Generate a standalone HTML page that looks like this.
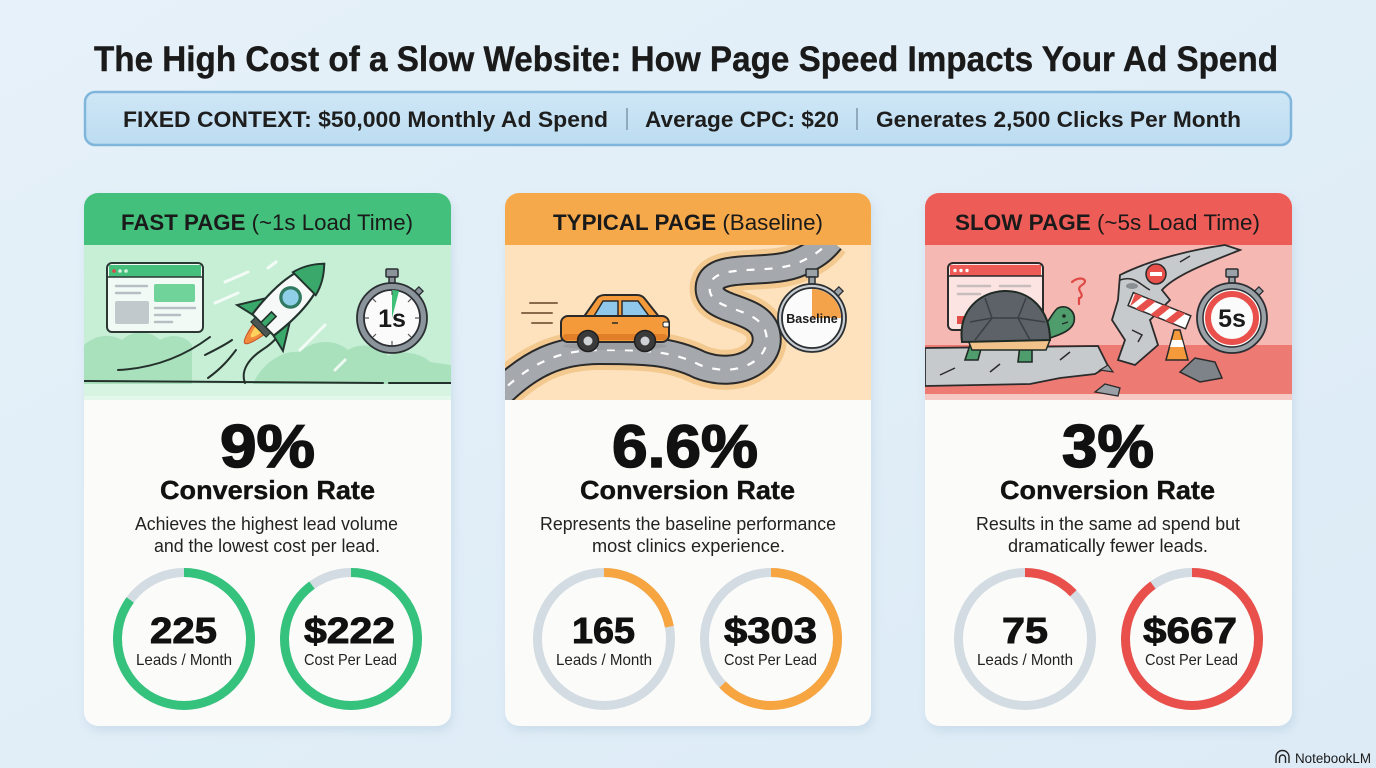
<!DOCTYPE html>
<html><head><meta charset="utf-8"><style>
html,body{margin:0;padding:0;width:1376px;height:768px;overflow:hidden;background:#e3eff8;}
svg{display:block;}
text{font-family:"Liberation Sans",Arial,sans-serif;}
</style></head><body>
<svg width="1376" height="768" viewBox="0 0 1376 768" xmlns="http://www.w3.org/2000/svg">
<defs>
<linearGradient id="bg" x1="0" y1="0" x2="1" y2="1">
<stop offset="0" stop-color="#e6f1f9"/><stop offset="1" stop-color="#dcebf6"/>
</linearGradient>
<linearGradient id="ban" x1="0" y1="0" x2="0" y2="1">
<stop offset="0" stop-color="#cfe7f6"/><stop offset="1" stop-color="#bcdcf1"/>
</linearGradient>
<filter id="sh" x="-10%" y="-10%" width="120%" height="120%"><feGaussianBlur stdDeviation="5"/></filter>
<clipPath id="c1"><rect x="84" y="193" width="367" height="533" rx="14"/></clipPath>
<clipPath id="c2"><rect x="505" y="193" width="366" height="533" rx="14"/></clipPath>
<clipPath id="c3"><rect x="925" y="193" width="367" height="533" rx="14"/></clipPath>
<clipPath id="i2"><rect x="505" y="245" width="366" height="155"/></clipPath>
</defs>
<rect width="1376" height="768" fill="url(#bg)"/>

<!-- Title -->
<text x="94" y="71" font-size="35" font-weight="bold" fill="#1a1a1a" stroke="#1a1a1a" stroke-width="0.4" textLength="1184" lengthAdjust="spacingAndGlyphs">The High Cost of a Slow Website: How Page Speed Impacts Your Ad Spend</text>

<!-- Banner -->
<rect x="85" y="92" width="1206" height="53" rx="10" fill="url(#ban)" stroke="#80b6dc" stroke-width="2.5"/>
<text x="123" y="127" font-size="22" font-weight="bold" fill="#1e1e1e" textLength="485" lengthAdjust="spacingAndGlyphs">FIXED CONTEXT: $50,000 Monthly Ad Spend</text>
<line x1="627" y1="108" x2="627" y2="130" stroke="#7f96a8" stroke-width="1.5"/>
<text x="645" y="127" font-size="22" font-weight="bold" fill="#1e1e1e" textLength="194" lengthAdjust="spacingAndGlyphs">Average CPC: $20</text>
<line x1="857" y1="108" x2="857" y2="130" stroke="#7f96a8" stroke-width="1.5"/>
<text x="876" y="127" font-size="22" font-weight="bold" fill="#1e1e1e" textLength="365" lengthAdjust="spacingAndGlyphs">Generates 2,500 Clicks Per Month</text>

<!-- Card shadows -->
<rect x="86" y="198" width="367" height="533" rx="14" fill="#b9cfe0" opacity="0.55" filter="url(#sh)"/>
<rect x="507" y="198" width="366" height="533" rx="14" fill="#b9cfe0" opacity="0.55" filter="url(#sh)"/>
<rect x="927" y="198" width="367" height="533" rx="14" fill="#b9cfe0" opacity="0.55" filter="url(#sh)"/>

<!-- ============ CARD 1 ============ -->
<g clip-path="url(#c1)">
<rect x="84" y="193" width="367" height="533" fill="#fbfbf9"/>
<rect x="84" y="193" width="367" height="52" fill="#43c07b"/>
<rect x="84" y="245" width="367" height="155" fill="#c6efd5"/>
<path d="M84 345 C95 335 110 333 122 340 C132 330 150 330 160 340 C172 333 186 336 192 345 L192 385 L84 385 Z" fill="#a9e1bd"/>
<path d="M250 390 C262 360 285 350 300 352 C312 340 335 338 348 350 C360 342 378 345 388 356 C400 350 420 352 430 362 L451 365 L451 390 Z" fill="#a9e1bd"/>
<rect x="84" y="384" width="367" height="13" fill="#d6f4e1"/>
<rect x="84" y="396" width="367" height="4" fill="#e3f7ea"/>
<g stroke="#ffffff" stroke-width="3" stroke-linecap="round" opacity="0.8">
<line x1="225" y1="282" x2="248" y2="272"/><line x1="215" y1="303" x2="238" y2="293"/>
<line x1="300" y1="350" x2="325" y2="325"/><line x1="335" y1="370" x2="345" y2="360"/>
<line x1="268" y1="268" x2="276" y2="262"/>
</g>
<g fill="none" stroke="#24302b" stroke-width="2" stroke-linecap="round">
<path d="M84 381 L383 383"/><path d="M389 383 L451 383"/>
<path d="M118 370 C160 368 190 352 210 337"/>
<path d="M208 378 C222 368 230 358 236 350"/>
<path d="M205 355 C215 350 225 345 232 340"/>
<path d="M245 383 C240 370 250 358 262 350 C270 345 275 340 278 336"/>
</g>
<rect x="107" y="263" width="96" height="69" rx="5" fill="#f2faf5" stroke="#2b3833" stroke-width="2"/>
<path d="M109 265 h92 v12 h-92 z" fill="#46bf7c"/>
<line x1="107" y1="277" x2="203" y2="277" stroke="#2b3833" stroke-width="1.5"/>
<circle cx="114" cy="271" r="1.8" fill="#e04848"/><circle cx="120" cy="271" r="1.8" fill="#d8f2e2"/><circle cx="126" cy="271" r="1.8" fill="#d8f2e2"/>
<g stroke="#b6bfc3" stroke-width="2.5" stroke-linecap="round">
<line x1="116" y1="286" x2="147" y2="286"/><line x1="116" y1="293" x2="140" y2="293"/>
<line x1="155" y1="308" x2="195" y2="308"/><line x1="155" y1="315" x2="180" y2="315"/><line x1="155" y1="322" x2="172" y2="322"/>
</g>
<rect x="154" y="284" width="41" height="18" rx="2" fill="#6fd39a"/>
<rect x="115" y="301" width="34" height="23" rx="2" fill="#c2c9cd"/>
<g transform="translate(286,302) rotate(45) scale(1.08)">
<path d="M-7 36 Q0 72 7 36 Z" fill="#f08a3c" stroke="#c7532a" stroke-width="1"/>
<path d="M-4 36 Q0 56 4 36 Z" fill="#ffd35c"/>
<path d="M-14 8 L-30 34 L-13 30 Z" fill="#3aa86a" stroke="#23332d" stroke-width="1.8"/>
<path d="M14 8 L30 34 L13 30 Z" fill="#3aa86a" stroke="#23332d" stroke-width="1.8"/>
<path d="M0 -50 C17 -32 18 0 14 30 L-14 30 C-18 0 -17 -32 0 -50 Z" fill="#f7f9f8" stroke="#23332d" stroke-width="2"/>
<path d="M0 -50 C9 -41 13 -32 15 -24 L-15 -24 C-13 -32 -9 -41 0 -50 Z" fill="#3aa86a" stroke="#23332d" stroke-width="1.8"/>
<circle cx="0" cy="-6" r="9" fill="#8fd0e8" stroke="#2f7a60" stroke-width="3"/>
<path d="M-3 16 L3 16 L3 32 L-3 32 Z" fill="#3aa86a" stroke="#23332d" stroke-width="1.5"/>
<rect x="-10" y="30" width="20" height="6" fill="#4b5552" stroke="#23332d" stroke-width="1"/>
</g>
<rect x="386" y="269" width="12" height="8" rx="1" fill="#8b949a" stroke="#2b2f33" stroke-width="1.5"/>
<rect x="389" y="277" width="6" height="7" fill="#8b949a" stroke="#2b2f33" stroke-width="1.5"/>
<g transform="rotate(45 392 318)"><rect x="389" y="277" width="6" height="8" fill="#8b949a" stroke="#2b2f33" stroke-width="1.3"/></g>
<circle cx="392" cy="318" r="35" fill="#8b949a" stroke="#2b2f33" stroke-width="1.8"/>
<circle cx="392" cy="318" r="28" fill="#fbfbfb" stroke="#2b2f33" stroke-width="1.8"/>
<path d="M392 318 L392 290 A28 28 0 0 1 399 291 Z" fill="#3fbf78"/>
<g stroke="#555" stroke-width="1.2">
<line x1="392" y1="291" x2="392" y2="295"/><line x1="419" y1="318" x2="415" y2="318"/><line x1="392" y1="345" x2="392" y2="341"/><line x1="365" y1="318" x2="369" y2="318"/>
<line x1="411" y1="299" x2="408" y2="302"/><line x1="411" y1="337" x2="408" y2="334"/><line x1="373" y1="337" x2="376" y2="334"/><line x1="373" y1="299" x2="376" y2="302"/>
</g>
<text x="392" y="327" font-size="25" font-weight="bold" fill="#1a1a1a" text-anchor="middle">1s</text>
</g>
<text x="121" y="230" font-size="22" fill="#1a1a1a" textLength="292" lengthAdjust="spacingAndGlyphs"><tspan font-weight="bold">FAST PAGE</tspan> (~1s Load Time)</text>
<text x="220" y="467" font-size="60" font-weight="bold" fill="#111" stroke="#111" stroke-width="1.6" textLength="95" lengthAdjust="spacingAndGlyphs">9%</text>
<text x="160" y="499" font-size="26" font-weight="bold" fill="#111" stroke="#111" stroke-width="0.4" textLength="215" lengthAdjust="spacingAndGlyphs">Conversion Rate</text>
<text x="135" y="530" font-size="18" fill="#222" textLength="263" lengthAdjust="spacingAndGlyphs">Achieves the highest lead volume</text>
<text x="154" y="552" font-size="18" fill="#222" textLength="226" lengthAdjust="spacingAndGlyphs">and the lowest cost per lead.</text>
<circle cx="184" cy="639" r="66.5" fill="none" stroke="#d3dce2" stroke-width="9"/>
<circle cx="184" cy="639" r="66.5" fill="none" stroke="#34c27c" stroke-width="9" stroke-dasharray="355 418" transform="rotate(-90 184 639)"/>
<circle cx="351" cy="639" r="66.5" fill="none" stroke="#d3dce2" stroke-width="9"/>
<circle cx="351" cy="639" r="66.5" fill="none" stroke="#34c27c" stroke-width="9" stroke-dasharray="376 418" transform="rotate(-90 351 639)"/>
<text x="150" y="643" font-size="36" font-weight="bold" fill="#111" stroke="#111" stroke-width="0.9" textLength="67" lengthAdjust="spacingAndGlyphs">225</text>
<text x="136" y="665" font-size="16" fill="#222" textLength="96" lengthAdjust="spacingAndGlyphs">Leads / Month</text>
<text x="304" y="643" font-size="36" font-weight="bold" fill="#111" stroke="#111" stroke-width="0.9" textLength="91" lengthAdjust="spacingAndGlyphs">$222</text>
<text x="304" y="665" font-size="16" fill="#222" textLength="93" lengthAdjust="spacingAndGlyphs">Cost Per Lead</text>

<!-- ============ CARD 2 ============ -->
<g clip-path="url(#c2)">
<rect x="505" y="193" width="366" height="533" fill="#fbfbf9"/>
<rect x="505" y="193" width="366" height="52" fill="#f6a94b"/>
<rect x="505" y="245" width="366" height="155" fill="#fde2bd"/>
<g clip-path="url(#i2)">
<path d="M495 398 C530 362 560 350 600 350 S670 350 700 365 C740 380 775 357 765 330 C755 305 705 312 710 285 C715 262 770 276 800 262 C815 255 822 250 830 240" fill="none" stroke="#f3c98f" stroke-width="40"/>
<path d="M495 398 C530 362 560 350 600 350 S670 350 700 365 C740 380 775 357 765 330 C755 305 705 312 710 285 C715 262 770 276 800 262 C815 255 822 250 830 240" fill="none" stroke="#2a2a2a" stroke-width="30"/>
<path d="M495 398 C530 362 560 350 600 350 S670 350 700 365 C740 380 775 357 765 330 C755 305 705 312 710 285 C715 262 770 276 800 262 C815 255 822 250 830 240" fill="none" stroke="#a5a9ae" stroke-width="26"/>
<path d="M495 398 C530 362 560 350 600 350 S670 350 700 365 C740 380 775 357 765 330 C755 305 705 312 710 285 C715 262 770 276 800 262 C815 255 822 250 830 240" fill="none" stroke="#ffffff" stroke-width="2.2" stroke-dasharray="8 10"/>
</g>
<g stroke="#8a6a4a" stroke-width="2" stroke-linecap="round">
<line x1="530" y1="303" x2="557" y2="303"/><line x1="522" y1="313" x2="552" y2="313"/><line x1="532" y1="323" x2="552" y2="323"/>
</g>
<ellipse cx="615" cy="346" rx="52" ry="4" fill="#8d8f93" opacity="0.5"/>
<path d="M583 318 L597 298 Q600 295 605 295 L637 295 Q642 295 645 299 L660 318 Z" fill="#f59a3a" stroke="#2a2a2a" stroke-width="2"/>
<path d="M594 316 L603 301 L618 301 L618 316 Z" fill="#8fc8ea" stroke="#2a2a2a" stroke-width="1.5"/>
<path d="M622 316 L622 301 L638 301 L649 316 Z" fill="#8fc8ea" stroke="#2a2a2a" stroke-width="1.5"/>
<rect x="561" y="316" width="108" height="26" rx="7" fill="#f59a3a" stroke="#2a2a2a" stroke-width="2"/>
<rect x="563" y="334" width="104" height="6" rx="3" fill="#e07f28"/>
<line x1="612" y1="323" x2="618" y2="323" stroke="#2a2a2a" stroke-width="1.5"/>
<rect x="663" y="322" width="6" height="5" rx="1.5" fill="#ffffff" stroke="#2a2a2a" stroke-width="1"/>
<circle cx="588" cy="341" r="10.5" fill="#3a3a3a" stroke="#1f1f1f" stroke-width="1.5"/><circle cx="588" cy="341" r="4.5" fill="#cfd3d6"/>
<circle cx="645" cy="341" r="10.5" fill="#3a3a3a" stroke="#1f1f1f" stroke-width="1.5"/><circle cx="645" cy="341" r="4.5" fill="#cfd3d6"/>
<rect x="806" y="269" width="12" height="8" rx="1" fill="#9aa2a8" stroke="#2b2f33" stroke-width="1.5"/>
<rect x="809" y="277" width="6" height="7" fill="#9aa2a8" stroke="#2b2f33" stroke-width="1.5"/>
<g transform="rotate(45 812 318)"><rect x="809" y="277" width="6" height="8" fill="#9aa2a8" stroke="#2b2f33" stroke-width="1.3"/></g>
<circle cx="812" cy="318" r="34" fill="#c9ced2" stroke="#2b2f33" stroke-width="1.8"/>
<circle cx="812" cy="318" r="30" fill="#fbfbfb" stroke="#2b2f33" stroke-width="1.8"/>
<path d="M812 318 L812 289 A29 29 0 0 1 841 318 Z" fill="#f4a34a"/>
<text x="812" y="323" font-size="12.5" font-weight="bold" fill="#1a1a1a" text-anchor="middle">Baseline</text>
</g>
<text x="553" y="230" font-size="22" fill="#1a1a1a" textLength="270" lengthAdjust="spacingAndGlyphs"><tspan font-weight="bold">TYPICAL PAGE</tspan> (Baseline)</text>
<text x="612" y="467" font-size="60" font-weight="bold" fill="#111" stroke="#111" stroke-width="1.6" textLength="146" lengthAdjust="spacingAndGlyphs">6.6%</text>
<text x="580" y="499" font-size="26" font-weight="bold" fill="#111" stroke="#111" stroke-width="0.4" textLength="215" lengthAdjust="spacingAndGlyphs">Conversion Rate</text>
<text x="540" y="530" font-size="18" fill="#222" textLength="296" lengthAdjust="spacingAndGlyphs">Represents the baseline performance</text>
<text x="592" y="552" font-size="18" fill="#222" textLength="193" lengthAdjust="spacingAndGlyphs">most clinics experience.</text>
<circle cx="604" cy="639" r="66.5" fill="none" stroke="#d3dce2" stroke-width="9"/>
<circle cx="604" cy="639" r="66.5" fill="none" stroke="#f7a540" stroke-width="9" stroke-dasharray="92 418" transform="rotate(-90 604 639)"/>
<circle cx="771" cy="639" r="66.5" fill="none" stroke="#d3dce2" stroke-width="9"/>
<circle cx="771" cy="639" r="66.5" fill="none" stroke="#f7a540" stroke-width="9" stroke-dasharray="263 418" transform="rotate(-90 771 639)"/>
<text x="572" y="643" font-size="36" font-weight="bold" fill="#111" stroke="#111" stroke-width="0.9" textLength="63" lengthAdjust="spacingAndGlyphs">165</text>
<text x="556" y="665" font-size="16" fill="#222" textLength="96" lengthAdjust="spacingAndGlyphs">Leads / Month</text>
<text x="724" y="643" font-size="36" font-weight="bold" fill="#111" stroke="#111" stroke-width="0.9" textLength="93" lengthAdjust="spacingAndGlyphs">$303</text>
<text x="724" y="665" font-size="16" fill="#222" textLength="93" lengthAdjust="spacingAndGlyphs">Cost Per Lead</text>

<!-- ============ CARD 3 ============ -->
<g clip-path="url(#c3)">
<rect x="925" y="193" width="367" height="533" fill="#fbfbf9"/>
<rect x="925" y="193" width="367" height="52" fill="#ee5c57"/>
<rect x="925" y="245" width="367" height="155" fill="#f6b8b3"/>
<path d="M925 345 L1292 345 L1292 400 L925 400 Z" fill="#ee7a74"/>
<rect x="925" y="394" width="367" height="6" fill="#f7c9c5"/>
<rect x="948" y="263" width="95" height="67" rx="5" fill="#fbe4e2" stroke="#2b2b2b" stroke-width="2"/>
<path d="M950 265 h91 v11 h-91 z" fill="#ee5a55"/>
<line x1="948" y1="276" x2="1043" y2="276" stroke="#2b2b2b" stroke-width="1.5"/>
<circle cx="955" cy="270.5" r="1.7" fill="#fff"/><circle cx="961" cy="270.5" r="1.7" fill="#fff"/><circle cx="967" cy="270.5" r="1.7" fill="#fff"/>
<g stroke="#c9bcbc" stroke-width="2.5" stroke-linecap="round">
<line x1="958" y1="286" x2="990" y2="286"/><line x1="1000" y1="286" x2="1030" y2="286"/><line x1="958" y1="294" x2="980" y2="294"/>
</g>
<rect x="957" y="316" width="9" height="8" fill="#e0504b"/>
<path d="M1072 282 C1080 275 1090 280 1082 285 C1074 290 1086 294 1080 298 M1079 298 L1079 304" fill="none" stroke="#e04a46" stroke-width="2.2" stroke-linecap="round"/>
<path d="M925 348 L1098 346 L1108 366 L1095 374 L1060 378 L1030 384 L925 386 Z" fill="#c7cacd" stroke="#2b2b2b" stroke-width="1.8"/>
<path d="M940 375 L955 368 M990 372 L1000 364 M1060 360 L1070 352" stroke="#2b2b2b" stroke-width="1.5"/>
<path d="M1120 275 C1150 260 1190 250 1225 245 L1240 250 C1210 262 1175 275 1162 290 L1170 300 L1150 320 L1158 345 L1135 365 L1118 360 L1125 340 L1112 320 L1118 300 Z" fill="#c7cacd" stroke="#2b2b2b" stroke-width="1.8"/>
<path d="M1120 280 C1135 275 1140 285 1150 290" fill="none" stroke="#2b2b2b" stroke-width="1.5"/>
<path d="M1132 330 L1142 335 L1138 342 M1180 262 L1190 256" fill="none" stroke="#2b2b2b" stroke-width="1.5"/>
<ellipse cx="1132" cy="286" rx="6" ry="3" fill="#8a8f94"/>
<g transform="rotate(22 1160 312)">
<rect x="1128" y="304" width="62" height="14" fill="#ffffff" stroke="#2b2b2b" stroke-width="1.5"/>
<g fill="#e8504b"><path d="M1130 304 l8 0 l-8 14 z"/><path d="M1144 304 l8 0 l-8 14 l-8 0 z"/><path d="M1160 304 l8 0 l-8 14 l-8 0 z"/><path d="M1176 304 l8 0 l-8 14 l-8 0 z"/></g>
</g>
<path d="M1166 360 L1174 330 L1180 330 L1188 360 Z" fill="#f59a3a" stroke="#2b2b2b" stroke-width="1.5"/>
<path d="M1170 347 L1184 347 L1182 340 L1172 340 Z" fill="#ffffff"/>
<circle cx="1156" cy="274" r="10" fill="#e8504b" stroke="#2b2b2b" stroke-width="1.5"/>
<rect x="1150" y="272" width="12" height="4" fill="#fff"/>
<path d="M1180 372 L1195 358 L1215 362 L1222 378 L1200 382 Z" fill="#7d8388" stroke="#2b2b2b" stroke-width="1.5"/>
<path d="M1095 392 L1105 384 L1120 388 L1118 396 Z" fill="#9aa0a5" stroke="#2b2b2b" stroke-width="1.3"/>
<path d="M1100 370 L1108 365 L1113 372 Z" fill="#9aa0a5" stroke="#2b2b2b" stroke-width="1.2"/>
<path d="M970 345 L965 360 L978 360 L982 345 Z" fill="#4f9d6d" stroke="#1f2a24" stroke-width="1.6"/>
<path d="M1020 345 L1018 362 L1032 362 L1032 345 Z" fill="#4f9d6d" stroke="#1f2a24" stroke-width="1.6"/>
<path d="M1040 330 C1050 322 1052 312 1058 308 C1068 304 1076 312 1074 322 C1072 330 1062 334 1050 338 Z" fill="#4f9d6d" stroke="#1f2a24" stroke-width="1.6"/>
<circle cx="1064" cy="316" r="1.8" fill="#1f2a24"/>
<path d="M1062 324 L1068 322" stroke="#1f2a24" stroke-width="1.2"/>
<path d="M968 340 L1050 340 L1046 350 L972 350 Z" fill="#f1c28a" stroke="#1f2a24" stroke-width="1.5"/>
<path d="M962 342 C958 310 980 292 1004 291 C1030 290 1050 310 1050 340 Z" fill="#5c6268" stroke="#1f2a24" stroke-width="2"/>
<path d="M985 298 L992 318 L1018 318 L1026 298 M992 318 L975 340 M1018 318 L1030 340 M970 322 L992 318 M1018 318 L1045 322" fill="none" stroke="#3a3f44" stroke-width="1.5"/>
<rect x="1226" y="269" width="12" height="8" rx="1" fill="#9aa2a8" stroke="#2b2f33" stroke-width="1.5"/>
<rect x="1229" y="277" width="6" height="7" fill="#9aa2a8" stroke="#2b2f33" stroke-width="1.5"/>
<g transform="rotate(45 1232 318)"><rect x="1229" y="277" width="6" height="8" fill="#9aa2a8" stroke="#2b2f33" stroke-width="1.3"/></g>
<circle cx="1232" cy="318" r="35" fill="#9aa2a8" stroke="#2b2f33" stroke-width="1.8"/>
<circle cx="1232" cy="318" r="29" fill="#fbfbfb" stroke="#2b2f33" stroke-width="1.5"/>
<circle cx="1232" cy="318" r="24" fill="none" stroke="#e9504c" stroke-width="6"/>
<text x="1232" y="327" font-size="25" font-weight="bold" fill="#1a1a1a" text-anchor="middle">5s</text>
</g>
<text x="955" y="230" font-size="22" fill="#1a1a1a" textLength="305" lengthAdjust="spacingAndGlyphs"><tspan font-weight="bold">SLOW PAGE</tspan> (~5s Load Time)</text>
<text x="1062" y="467" font-size="60" font-weight="bold" fill="#111" stroke="#111" stroke-width="1.6" textLength="92" lengthAdjust="spacingAndGlyphs">3%</text>
<text x="1000" y="499" font-size="26" font-weight="bold" fill="#111" stroke="#111" stroke-width="0.4" textLength="215" lengthAdjust="spacingAndGlyphs">Conversion Rate</text>
<text x="976" y="530" font-size="18" fill="#222" textLength="264" lengthAdjust="spacingAndGlyphs">Results in the same ad spend but</text>
<text x="1008" y="552" font-size="18" fill="#222" textLength="200" lengthAdjust="spacingAndGlyphs">dramatically fewer leads.</text>
<circle cx="1025" cy="639" r="66.5" fill="none" stroke="#d3dce2" stroke-width="9"/>
<circle cx="1025" cy="639" r="66.5" fill="none" stroke="#e9504c" stroke-width="9" stroke-dasharray="54 418" transform="rotate(-90 1025 639)"/>
<circle cx="1192" cy="639" r="66.5" fill="none" stroke="#d3dce2" stroke-width="9"/>
<circle cx="1192" cy="639" r="66.5" fill="none" stroke="#e9504c" stroke-width="9" stroke-dasharray="376 418" transform="rotate(-90 1192 639)"/>
<text x="1002" y="643" font-size="36" font-weight="bold" fill="#111" stroke="#111" stroke-width="0.9" textLength="46" lengthAdjust="spacingAndGlyphs">75</text>
<text x="977" y="665" font-size="16" fill="#222" textLength="96" lengthAdjust="spacingAndGlyphs">Leads / Month</text>
<text x="1143" y="643" font-size="36" font-weight="bold" fill="#111" stroke="#111" stroke-width="0.9" textLength="94" lengthAdjust="spacingAndGlyphs">$667</text>
<text x="1145" y="665" font-size="16" fill="#222" textLength="93" lengthAdjust="spacingAndGlyphs">Cost Per Lead</text>

<!-- watermark -->
<g fill="none" stroke="#222" stroke-width="1.4">
<path d="M1276 763 L1276 757 A6.5 6.5 0 0 1 1289 757 L1289 763"/>
<path d="M1279.5 763 L1279.5 758 A3 3 0 0 1 1285.5 758 L1285.5 763"/>
</g>
<text x="1295" y="763" font-size="14" fill="#1a1a1a" textLength="76" lengthAdjust="spacingAndGlyphs">NotebookLM</text>
</svg>
</body></html>
